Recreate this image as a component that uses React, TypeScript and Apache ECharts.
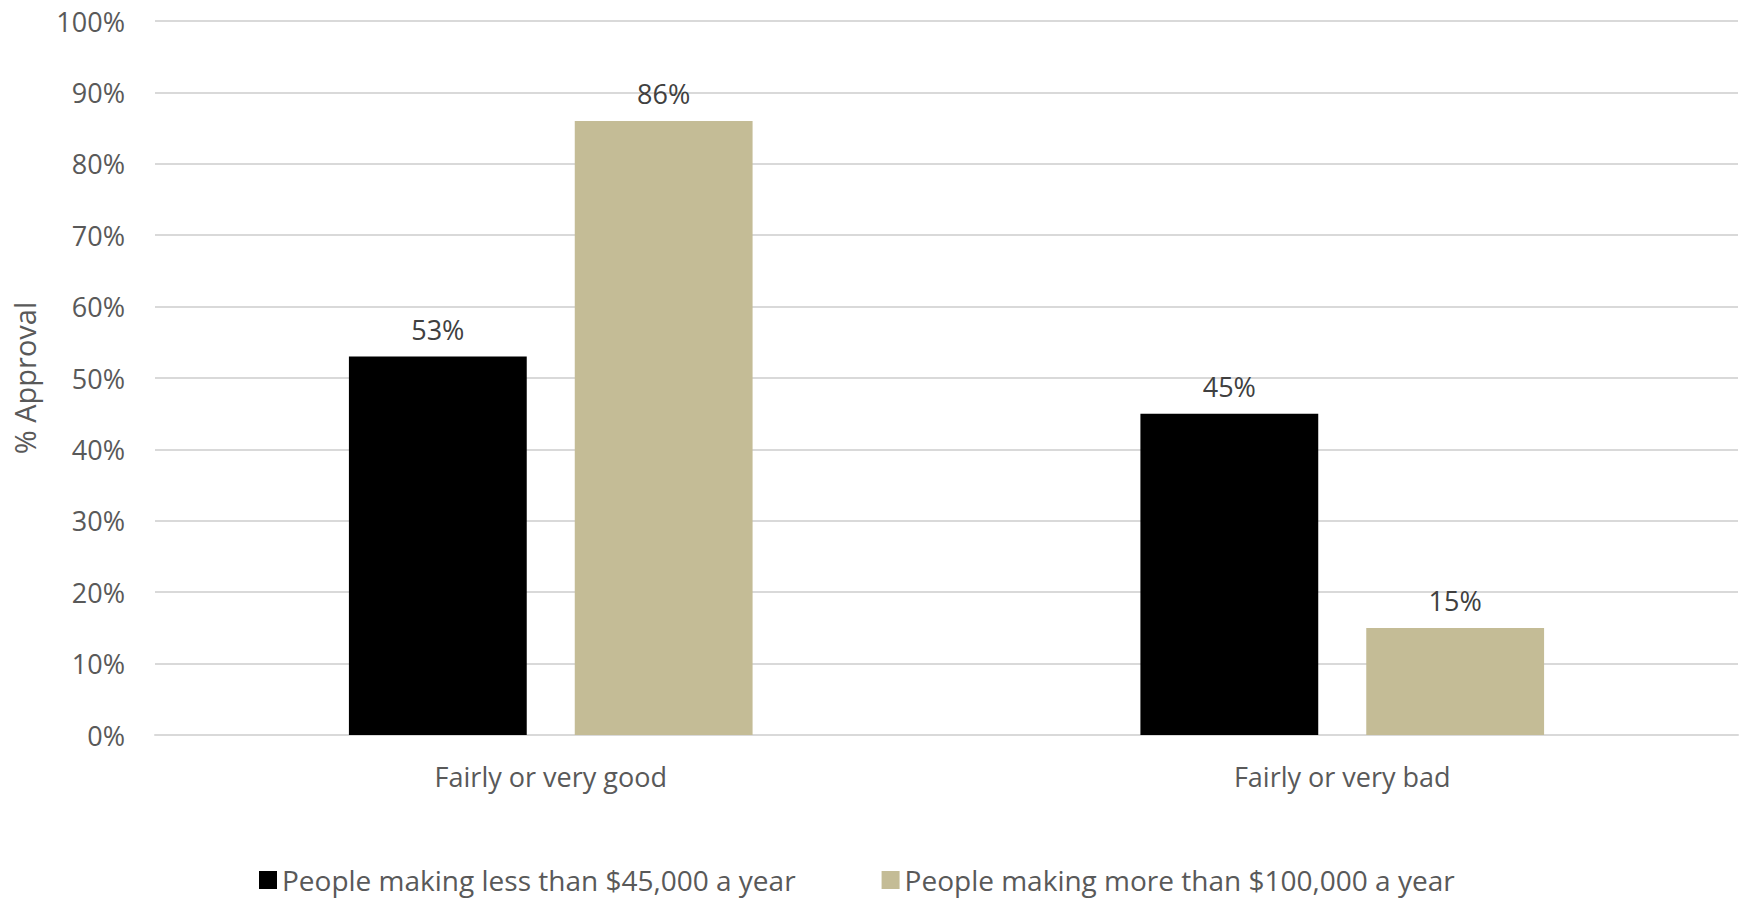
import React, { useEffect, useRef } from "react";
import * as echarts from "echarts";

const categories = ["Fairly or very good", "Fairly or very bad"];
const seriesNames = [
  "People making less than $45,000 a year",
  "People making more than $100,000 a year",
];
const lowIncome = [53, 45];
const highIncome = [86, 15];
const colors = ["#000000", "#C4BC96"];
const FONT = "'Open Sans', 'Noto Sans', sans-serif";

export default function App() {
  const ref = useRef<HTMLDivElement>(null);
  useEffect(() => {
    document.body.style.margin = "0";
    const chart = echarts.init(ref.current!, null, { renderer: "svg" });
    const labelStyle = {
      show: true,
      position: "top" as const,
      distance: 14,
      formatter: "{c}%",
      color: "#404040",
      fontSize: 27,
      fontFamily: FONT,
    };
    chart.setOption({
      animation: false,
      backgroundColor: "#ffffff",
      grid: { left: 155, right: 9, top: 21, bottom: 167, containLabel: false },
      legend: {
        data: seriesNames,
        bottom: 0,
        left: 254,
        icon: "rect",
        itemWidth: 18,
        itemHeight: 18,
        itemGap: 86,
        textStyle: { color: "#595959", fontSize: 28, fontFamily: FONT, lineHeight: 34 },
      },
      xAxis: {
        type: "category",
        data: categories,
        axisLine: { show: true, lineStyle: { color: "#D9D9D9", width: 2 } },
        axisTick: { show: false },
        axisLabel: { color: "#595959", fontSize: 27, fontFamily: FONT, margin: 28 },
      },
      yAxis: {
        type: "value",
        min: 0,
        max: 100,
        interval: 10,
        name: "% Approval",
        nameLocation: "middle",
        nameGap: 116,
        nameTextStyle: { color: "#595959", fontSize: 29, fontFamily: FONT },
        axisLine: { show: false },
        axisTick: { show: false },
        axisLabel: { formatter: "{value}%", color: "#595959", fontSize: 27, fontFamily: FONT, margin: 30 },
        splitLine: { lineStyle: { color: "#D9D9D9", width: 2 } },
      },
      series: [
        {
          name: seriesNames[0],
          type: "bar",
          data: lowIncome,
          barGap: "27%",
          barCategoryGap: "49%",
          itemStyle: { color: colors[0] },
          label: labelStyle,
        },
        {
          name: seriesNames[1],
          type: "bar",
          data: highIncome,
          itemStyle: { color: colors[1] },
          label: labelStyle,
        },
      ],
    });
    return () => chart.dispose();
  }, []);
  return <div ref={ref} style={{ width: 1747, height: 902 }} />;
}
